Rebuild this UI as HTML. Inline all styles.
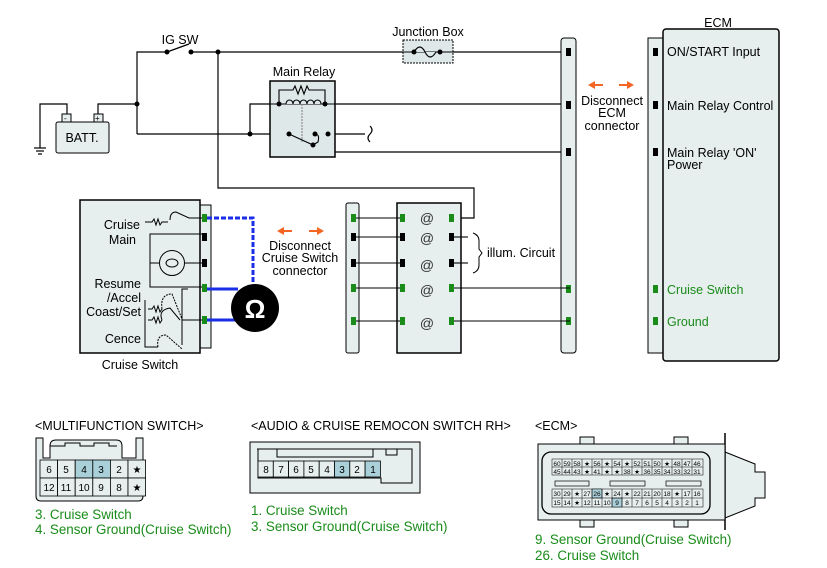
<!DOCTYPE html>
<html><head><meta charset="utf-8"><style>
html,body{margin:0;padding:0;background:#fff;}
svg{display:block;font-family:"Liberation Sans",Arial,sans-serif;}
</style></head><body>
<svg width="827" height="568" viewBox="0 0 827 568" xmlns="http://www.w3.org/2000/svg">
<g fill="none" stroke="#000" stroke-width="1.2">
<polyline points="137,134 137,52 167,52"/>
<line x1="167" y1="52" x2="189" y2="44"/>
<line x1="191" y1="52" x2="570" y2="52"/>
<polyline points="218,52 218,188 474,188 474,218 456,218"/>
<polyline points="67,118 67,104 40,104 40,148"/>
<line x1="34" y1="148" x2="46" y2="148"/><line x1="36" y1="151" x2="44" y2="151"/><line x1="38" y1="154" x2="42" y2="154"/>
<polyline points="98,118 98,104 137,104"/>
<line x1="137" y1="134" x2="289" y2="134"/>
<polyline points="250,134 250,104 279,104"/>
<line x1="325" y1="104" x2="570" y2="104"/>
<line x1="328" y1="134" x2="365" y2="134"/>
<path d="M370,126 q4,4 0,8 q-4,4 0,8"/>
<polyline points="328,134 328,152 570,152"/>
</g>
<rect x="62" y="114" width="9" height="8" fill="#e6eeee" stroke="#000"/>
<rect x="94" y="114" width="9" height="8" fill="#e6eeee" stroke="#000"/>
<text x="64" y="121" font-size="8">-</text><text x="95" y="121" font-size="8">+</text>
<rect x="56" y="122" width="53" height="31" rx="2" fill="#e6eeee" stroke="#000"/>
<text x="82" y="142" font-size="12.5" text-anchor="middle">BATT.</text>
<text x="180" y="44" font-size="12.5" text-anchor="middle">IG SW</text>
<text x="304" y="76" font-size="12.5" text-anchor="middle">Main Relay</text>
<rect x="270" y="81" width="65" height="76" fill="#dfe8e8" stroke="#000" stroke-width="1.5"/>
<g fill="none" stroke="#000" stroke-width="1.1">
<line x1="270" y1="104" x2="335" y2="104"/>
<polyline points="279,104 279,90 293,90 295,86 298,94 301,86 304,94 307,86 309,90 325,90 325,104"/>
<path d="M286,104 a3.5,4 0 0 1 7,0 a3.5,4 0 0 1 7,0 a3.5,4 0 0 1 7,0 a3.5,4 0 0 1 7,0 a3.5,4 0 0 1 7,0" fill="#dfe8e8"/>
<line x1="302" y1="104" x2="302" y2="142" stroke-dasharray="2,1" stroke="#888"/>
<line x1="289" y1="134" x2="313" y2="145"/>
<path d="M315,134 q5,0 3,8 l-5,3"/>
</g>
<g fill="#000"><circle cx="167" cy="52" r="2.5"/><circle cx="191" cy="52" r="2.5"/><circle cx="218" cy="52" r="2.5"/><circle cx="137" cy="104" r="2.5"/><circle cx="250" cy="134" r="2.5"/><circle cx="279" cy="104" r="2.5"/><circle cx="325" cy="104" r="2.5"/><circle cx="289" cy="134" r="2.5"/><circle cx="313" cy="145" r="2.5"/><circle cx="315" cy="134" r="2.5"/><circle cx="328" cy="134" r="2.5"/></g>
<text x="428" y="36" font-size="12.5" text-anchor="middle">Junction Box</text>
<rect x="403" y="40" width="50" height="23" fill="#dfe8e8" stroke="#000" stroke-dasharray="2,1"/>
<line x1="403" y1="52" x2="453" y2="52" stroke="#000"/>
<path d="M414,52 q6,-10 11,0 q5,10 11,0" fill="#dfe8e8" stroke="#000" stroke-width="1.2"/>
<circle cx="414" cy="52" r="2.5"/><circle cx="440" cy="52" r="2.5"/>
<rect x="561" y="38" width="15" height="315" rx="3" fill="#e6eeee" stroke="#000"/>
<g fill="#000"><rect x="566" y="48" width="5" height="8"/><rect x="566" y="101" width="5" height="8"/><rect x="566" y="148" width="5" height="8"/></g>
<g fill="#1a8c1a"><rect x="566" y="285" width="5" height="8"/><rect x="566" y="317" width="5" height="8"/></g>
<g fill="#f26522">
<path d="M588,85 l7,-4 v3 h8 v2 h-8 v3z"/><path d="M634,85 l-7,-4 v3 h-8 v2 h8 v3z"/>
<path d="M277,231 l7,-4 v3 h8 v2 h-8 v3z"/><path d="M324,231 l-7,-4 v3 h-8 v2 h8 v3z"/>
</g>
<g font-size="12.5" text-anchor="middle"><text x="612" y="105">Disconnect</text><text x="612" y="117">ECM</text><text x="612" y="130">connector</text></g>
<text x="718" y="27" font-size="12.5" text-anchor="middle">ECM</text>
<rect x="648" y="38" width="16" height="315" fill="#e6eeee" stroke="#000"/>
<rect x="663" y="29" width="116" height="332" rx="3" fill="#e6eeee" stroke="#000" stroke-width="1.5"/>
<g fill="#000"><rect x="653" y="48" width="5" height="8"/><rect x="653" y="101" width="5" height="8"/><rect x="653" y="148" width="5" height="8"/></g>
<g fill="#1a8c1a"><rect x="653" y="285" width="5" height="8"/><rect x="653" y="317" width="5" height="8"/></g>
<g font-size="12.5"><text x="667" y="56">ON/START Input</text><text x="667" y="110">Main Relay Control</text><text x="667" y="157">Main Relay 'ON'</text><text x="667" y="169">Power</text>
<text x="667" y="294" fill="#1a8c1a">Cruise Switch</text><text x="667" y="326" fill="#1a8c1a">Ground</text></g>
<rect x="199" y="205" width="12" height="143" fill="#e6eeee" stroke="#000"/>
<rect x="80" y="200" width="120" height="153" fill="#e6eeee" stroke="#000" stroke-width="1.5"/>
<g fill="none" stroke="#000" stroke-width="1">
<polyline points="145,222 152,222 154,219 156,225 158,219 160,225 162,222 168,222"/>
<path d="M170,220 q0,-8 6,-8 l13,6 l16,0"/>
<polyline points="205,234 150,234 150,287 205,287"/>
<line x1="150" y1="263" x2="159" y2="263"/><line x1="185" y1="263" x2="205" y2="263"/>
<circle cx="172" cy="263" r="12.5"/>
<ellipse cx="172" cy="263" rx="6" ry="4"/>
<polyline points="188,289 182,289 182,345"/>
<line x1="182" y1="320" x2="205" y2="320"/>
<polyline points="148,309 152,309 154,306 156,312 158,306 160,312 162,309"/>
<polyline points="148,320 152,320 154,317 156,323 158,317 160,323 162,320"/>
<path d="M162,309 q-2,-15 10,-15 l10,25" stroke-dasharray="2,1"/>
<path d="M162,320 q-4,-10 8,-12 l10,12"/>
<polyline points="145,300 145,347 158,347"/>
<path d="M158,347 q-2,-12 8,-12 l16,14" stroke-dasharray="2,1"/>
</g>
<g fill="#1a8c1a"><rect x="202" y="214" width="5" height="8"/><rect x="202" y="284" width="5" height="8"/><rect x="202" y="316" width="5" height="8"/></g>
<g fill="#000"><rect x="202" y="233" width="5" height="8"/><rect x="202" y="259" width="5" height="8"/></g>
<g font-size="12.5" text-anchor="end"><text x="140" y="229">Cruise</text><text x="136" y="244">Main</text><text x="141" y="288">Resume</text><text x="141" y="302">/Accel</text><text x="141" y="316">Coast/Set</text><text x="141" y="343">Cence</text></g>
<text x="140" y="369" font-size="12.5" text-anchor="middle">Cruise Switch</text>
<polyline points="207,218 253,218 253,284" fill="none" stroke="#1a2ee8" stroke-width="3" stroke-dasharray="5,2"/>
<line x1="207" y1="289" x2="238" y2="289" stroke="#1a2ee8" stroke-width="3"/>
<line x1="207" y1="320" x2="238" y2="320" stroke="#1a2ee8" stroke-width="3"/>
<circle cx="255" cy="308" r="24" fill="#000"/>
<text x="255" y="318" font-size="26" fill="#fff" text-anchor="middle" font-weight="bold">Ω</text>
<g font-size="12.5" text-anchor="middle"><text x="300" y="250">Disconnect</text><text x="300" y="262">Cruise Switch</text><text x="300" y="275">connector</text></g>
<rect x="346" y="203" width="13" height="150" rx="2" fill="#e6eeee" stroke="#000"/>
<rect x="397" y="203" width="64" height="150" fill="#e6eeee" stroke="#000" stroke-width="1.5"/>
<g stroke="#000" stroke-width="1.1">
<line x1="354" y1="218" x2="403" y2="218"/><line x1="354" y1="237" x2="403" y2="237"/><line x1="354" y1="263" x2="403" y2="263"/><line x1="354" y1="288" x2="403" y2="288"/><line x1="354" y1="321" x2="403" y2="321"/>
<line x1="452" y1="237" x2="468" y2="237"/><line x1="452" y1="263" x2="468" y2="263"/>
<line x1="452" y1="288" x2="570" y2="288"/><line x1="452" y1="321" x2="570" y2="321"/>
</g>
<path d="M473,233 q6,2 6,8 v8 l3,4 l-3,4 v8 q0,6 -6,8" fill="none" stroke="#000"/>
<text x="487" y="257" font-size="12.5">illum. Circuit</text>
<g fill="#1a8c1a"><rect x="351" y="214" width="5" height="8"/><rect x="351" y="284" width="5" height="8"/><rect x="351" y="317" width="5" height="8"/>
<rect x="400" y="214" width="5" height="8"/><rect x="400" y="284" width="5" height="8"/><rect x="400" y="317" width="5" height="8"/>
<rect x="449" y="214" width="5" height="8"/><rect x="449" y="284" width="5" height="8"/><rect x="449" y="317" width="5" height="8"/></g>
<g fill="#000"><rect x="351" y="233" width="5" height="8"/><rect x="351" y="259" width="5" height="8"/><rect x="400" y="233" width="5" height="8"/><rect x="400" y="259" width="5" height="8"/><rect x="449" y="233" width="5" height="8"/><rect x="449" y="259" width="5" height="8"/></g>
<g font-size="14" text-anchor="middle" fill="#333"><text x="427" y="223">@</text><text x="427" y="243">@</text><text x="427" y="270">@</text><text x="427" y="295">@</text><text x="427" y="328">@</text></g>
<text x="35" y="430" font-size="12.5">&lt;MULTIFUNCTION SWITCH&gt;</text>
<g stroke="#000" fill="#e6eeee">
<path d="M36,438 h7 v20 h7 v-12 q0,-6 6,-6 h60 q6,0 6,6 v12 h14 v-20 h7 v58 q0,5 -5,5 h-97 q-5,0 -5,-5z"/>
<path d="M50,446 h15 v-3 h15 v3 h14 v-3 h15 v3 h8" fill="none"/>
</g>
<g stroke="#000" stroke-width="0.8">
<rect x="40" y="460" width="17.6" height="18" fill="#e6eeee"/><rect x="57.6" y="460" width="17.6" height="18" fill="#e6eeee"/><rect x="75.2" y="460" width="17.6" height="18" fill="#a9cfd8"/><rect x="92.8" y="460" width="17.6" height="18" fill="#a9cfd8"/><rect x="110.4" y="460" width="17.6" height="18" fill="#e6eeee"/><rect x="128" y="460" width="17.6" height="18" fill="#e6eeee"/>
<rect x="40" y="478" width="17.6" height="18" fill="#e6eeee"/><rect x="57.6" y="478" width="17.6" height="18" fill="#e6eeee"/><rect x="75.2" y="478" width="17.6" height="18" fill="#e6eeee"/><rect x="92.8" y="478" width="17.6" height="18" fill="#e6eeee"/><rect x="110.4" y="478" width="17.6" height="18" fill="#e6eeee"/><rect x="128" y="478" width="17.6" height="18" fill="#e6eeee"/>
</g>
<g font-size="10" text-anchor="middle"><text x="49" y="473">6</text><text x="66" y="473">5</text><text x="84" y="473">4</text><text x="101" y="473">3</text><text x="119" y="473">2</text><text x="137" y="473">★</text>
<text x="49" y="491">12</text><text x="66" y="491">11</text><text x="84" y="491">10</text><text x="101" y="491">9</text><text x="119" y="491">8</text><text x="137" y="491">★</text></g>
<g font-size="13.4" fill="#1a8c1a"><text x="35" y="519">3. Cruise Switch</text><text x="35" y="534">4. Sensor Ground(Cruise Switch)</text></g>
<text x="251" y="430" font-size="12.5">&lt;AUDIO &amp; CRUISE REMOCON SWITCH RH&gt;</text>
<path d="M250,442 h170 v51 h-170z" fill="#e6eeee" stroke="#000"/>
<path d="M257,449 h155 v34 h-31 v-5 h-123 v-29z M277,449 v8 h96 v-8 M386,449 v6 h11 v-6" fill="none" stroke="#000"/>
<g stroke="#000" stroke-width="0.8">
<rect x="258" y="461" width="15.3" height="16" fill="#e6eeee"/><rect x="273.3" y="461" width="15.3" height="16" fill="#e6eeee"/><rect x="288.6" y="461" width="15.3" height="16" fill="#e6eeee"/><rect x="303.9" y="461" width="15.3" height="16" fill="#e6eeee"/><rect x="319.2" y="461" width="15.3" height="16" fill="#e6eeee"/><rect x="334.5" y="461" width="15.3" height="16" fill="#a9cfd8"/><rect x="349.8" y="461" width="15.3" height="16" fill="#e6eeee"/><rect x="365.1" y="461" width="15.3" height="16" fill="#a9cfd8"/>
</g>
<g font-size="10" text-anchor="middle"><text x="266" y="473">8</text><text x="281" y="473">7</text><text x="296" y="473">6</text><text x="311" y="473">5</text><text x="327" y="473">4</text><text x="342" y="473">3</text><text x="357" y="473">2</text><text x="373" y="473">1</text></g>
<g font-size="13.4" fill="#1a8c1a"><text x="251" y="515">1. Cruise Switch</text><text x="251" y="531">3. Sensor Ground(Cruise Switch)</text></g>
<text x="535" y="430" font-size="12.5">&lt;ECM&gt;</text>
<path d="M725,452 l30,12 v8 h10 v26 h-10 v8 l-30,12z" fill="#e6eeee" stroke="#000"/>
<line x1="725" y1="433" x2="725" y2="530" stroke="#000" stroke-width="1.5"/>
<rect x="580" y="437" width="14" height="7" fill="#e6eeee" stroke="#000"/><rect x="674" y="437" width="14" height="7" fill="#e6eeee" stroke="#000"/>
<rect x="580" y="520" width="14" height="7" fill="#e6eeee" stroke="#000"/><rect x="674" y="520" width="14" height="7" fill="#e6eeee" stroke="#000"/>
<rect x="538" y="444" width="187" height="76" fill="#e6eeee" stroke="#000"/>
<rect x="542" y="452" width="168" height="62" rx="9" fill="none" stroke="#000" stroke-width="1.3"/>
<g fill="none" stroke="#000" stroke-width="0.7">
<rect x="555" y="481" width="34" height="5"/><rect x="610" y="481" width="35" height="5"/><rect x="666" y="481" width="35" height="5"/>
</g>
<g stroke="#000" stroke-width="0.5">
<rect x="552" y="459" width="151" height="16" fill="#e6eeee"/>
<rect x="552" y="489" width="151" height="18" fill="#e6eeee"/>
<rect x="592" y="489" width="10" height="9" fill="#a9cfd8"/>
<rect x="612" y="498" width="10" height="9" fill="#a9cfd8"/>
</g>
<g stroke="#000" stroke-width="0.5">
<line x1="552" y1="467" x2="703" y2="467"/><line x1="552" y1="498" x2="703" y2="498"/>
<line x1="562" y1="459" x2="562" y2="475"/><line x1="572" y1="459" x2="572" y2="475"/><line x1="582" y1="459" x2="582" y2="475"/><line x1="592" y1="459" x2="592" y2="475"/><line x1="602" y1="459" x2="602" y2="475"/><line x1="612" y1="459" x2="612" y2="475"/><line x1="622" y1="459" x2="622" y2="475"/><line x1="632" y1="459" x2="632" y2="475"/><line x1="642" y1="459" x2="642" y2="475"/><line x1="652" y1="459" x2="652" y2="475"/><line x1="662" y1="459" x2="662" y2="475"/><line x1="672" y1="459" x2="672" y2="475"/><line x1="682" y1="459" x2="682" y2="475"/><line x1="692" y1="459" x2="692" y2="475"/>
<line x1="562" y1="489" x2="562" y2="507"/><line x1="572" y1="489" x2="572" y2="507"/><line x1="582" y1="489" x2="582" y2="507"/><line x1="592" y1="489" x2="592" y2="507"/><line x1="602" y1="489" x2="602" y2="507"/><line x1="612" y1="489" x2="612" y2="507"/><line x1="622" y1="489" x2="622" y2="507"/><line x1="632" y1="489" x2="632" y2="507"/><line x1="642" y1="489" x2="642" y2="507"/><line x1="652" y1="489" x2="652" y2="507"/><line x1="662" y1="489" x2="662" y2="507"/><line x1="672" y1="489" x2="672" y2="507"/><line x1="682" y1="489" x2="682" y2="507"/><line x1="692" y1="489" x2="692" y2="507"/>
</g>
<g font-size="6.5" text-anchor="middle">
<text x="557" y="466">60</text><text x="567" y="466">59</text><text x="577" y="466">58</text><text x="587" y="466">★</text><text x="597" y="466">56</text><text x="607" y="466">★</text><text x="617" y="466">54</text><text x="627" y="466">★</text><text x="637" y="466">52</text><text x="647" y="466">51</text><text x="657" y="466">50</text><text x="667" y="466">★</text><text x="677" y="466">48</text><text x="687" y="466">47</text><text x="697" y="466">46</text>
<text x="557" y="474">45</text><text x="567" y="474">44</text><text x="577" y="474">43</text><text x="587" y="474">★</text><text x="597" y="474">41</text><text x="607" y="474">★</text><text x="617" y="474">★</text><text x="627" y="474">38</text><text x="637" y="474">★</text><text x="647" y="474">36</text><text x="657" y="474">35</text><text x="667" y="474">34</text><text x="677" y="474">33</text><text x="687" y="474">32</text><text x="697" y="474">31</text>
<text x="557" y="496">30</text><text x="567" y="496">29</text><text x="577" y="496">★</text><text x="587" y="496">27</text><text x="597" y="496">26</text><text x="607" y="496">★</text><text x="617" y="496">24</text><text x="627" y="496">★</text><text x="637" y="496">22</text><text x="647" y="496">21</text><text x="657" y="496">20</text><text x="667" y="496">18</text><text x="677" y="496">★</text><text x="687" y="496">17</text><text x="697" y="496">16</text>
<text x="557" y="505">15</text><text x="567" y="505">14</text><text x="577" y="505">★</text><text x="587" y="505">12</text><text x="597" y="505">11</text><text x="607" y="505">10</text><text x="617" y="505">9</text><text x="627" y="505">8</text><text x="637" y="505">7</text><text x="647" y="505">6</text><text x="657" y="505">5</text><text x="667" y="505">4</text><text x="677" y="505">3</text><text x="687" y="505">2</text><text x="697" y="505">1</text>
</g>
<g font-size="13.4" fill="#1a8c1a"><text x="535" y="544">9. Sensor Ground(Cruise Switch)</text><text x="535" y="560">26. Cruise Switch</text></g>
</svg>
</body></html>
